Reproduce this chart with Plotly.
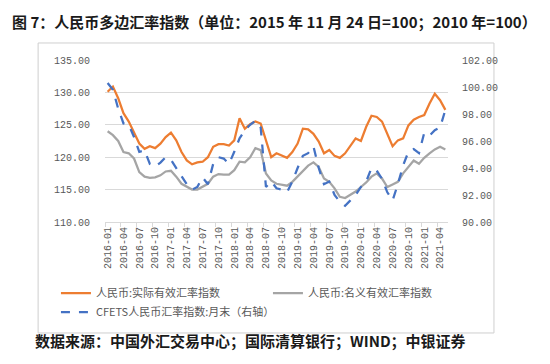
import plotly.graph_objects as go

months = [f"{y}-{m:02d}" for y in range(2016, 2022) for m in range(1, 13)][:65]

reer = [130.1, 130.9, 129.1, 126.8, 125.5, 123.7, 122.1, 121.3, 121.7, 121.4, 122.1, 123.1,
        123.8, 122.6, 120.8, 119.5, 118.9, 119.2, 119.3, 120.0, 121.6, 122.0, 122.0, 121.8,
        122.6, 126.0, 124.4, 125.1, 125.5, 125.2, 122.4, 120.0, 120.6, 120.2, 119.9, 120.8,
        122.1, 124.4, 124.3, 123.6, 122.4, 120.6, 121.1, 120.2, 119.9, 120.6, 121.8, 122.9,
        122.5, 124.7, 126.4, 126.2, 125.5, 123.7, 121.7, 122.6, 122.9, 124.9, 125.8, 126.2,
        126.5, 128.3, 129.8, 128.8, 127.3]

neer = [124.0, 123.4, 122.5, 120.8, 120.6, 119.8, 117.7, 117.0, 116.8, 116.9, 117.2, 117.8,
        117.9, 117.0, 115.9, 115.4, 115.0, 115.0, 115.5, 115.9, 117.0, 117.4, 117.3, 117.3,
        118.0, 119.3, 119.2, 120.0, 121.4, 121.1, 117.5, 116.4, 115.9, 115.7, 115.6, 116.2,
        117.0, 117.8, 118.7, 119.2, 118.5, 116.7, 116.2, 115.2, 113.9, 113.7, 114.2, 114.7,
        115.4, 116.1, 117.0, 117.5, 116.7, 115.4, 115.8, 116.2, 117.5, 118.5, 119.5, 119.0,
        119.9, 120.6, 121.2, 121.6, 121.2]

cfets = [100.3, 99.8, 98.4, 97.3, 97.2, 96.3, 95.2, 95.3, 94.3, 94.1, 94.4, 94.8,
         94.6, 94.0, 93.3, 92.8, 92.4, 92.6, 93.3, 92.8, 94.3, 94.8, 94.7, 94.3,
         95.2, 96.2, 96.8, 97.2, 97.5, 97.0, 92.6, 93.0, 92.5, 92.4, 92.2, 93.0,
         94.0, 94.9, 95.1, 95.6, 94.0, 92.8, 93.0, 92.0, 91.5, 91.2, 91.6, 92.0,
         92.6, 93.0, 94.0, 93.8, 93.2, 92.2, 91.6, 92.8, 94.2, 95.2, 95.4, 95.1,
         96.6, 96.4, 96.8, 97.0, 98.3]

names = ["人民币:实际有效汇率指数", "人民币:名义有效汇率指数", "CFETS人民币汇率指数:月末（右轴）"]

title_text = "图 7：人民币多边汇率指数（单位：2015 年 11 月 24 日=100；2010 年=100）"
source_text = "数据来源：中国外汇交易中心；国际清算银行；WIND；中银证券"

fig = go.Figure()
fig.add_trace(go.Scatter(x=months, y=reer, name=names[0], mode="lines",
                         line=dict(color="#ED7D31", width=2.25)))
fig.add_trace(go.Scatter(x=months, y=neer, name=names[1], mode="lines",
                         line=dict(color="#A5A5A5", width=2.25)))
fig.add_trace(go.Scatter(x=months, y=cfets, name=names[2], mode="lines", yaxis="y2",
                         line=dict(color="#4472C4", width=2.25, dash="dash")))

tickfont = dict(family="Liberation Mono, monospace", size=10, color="#595959")

fig.update_layout(
    width=550, height=364,
    margin=dict(l=97, r=110, t=52, b=150),
    paper_bgcolor="white", plot_bgcolor="white",
    showlegend=True,
    legend=dict(orientation="h", x=-0.143, y=-0.35, xanchor="left", yanchor="top",
                entrywidth=167, tracegroupgap=0, itemwidth=30,
                font=dict(family="Noto Sans CJK SC", size=11, color="#595959"),
                bgcolor="rgba(0,0,0,0)"),
    xaxis=dict(type="category", range=[-0.5, 64.5], tickmode="linear", tick0=0, dtick=3,
               tickson="boundaries", ticks="outside", ticklen=4, tickcolor="#d9d9d9",
               showline=True, linecolor="#d9d9d9", linewidth=1, showgrid=False,
               tickangle=-90, tickfont=tickfont),
    yaxis=dict(range=[110, 135], dtick=5, tickformat=".2f", showgrid=True,
               gridcolor="#d9d9d9", gridwidth=1, zeroline=False, showline=False,
               ticks="", tickfont=tickfont, ticklabelstandoff=14),
    yaxis2=dict(range=[90, 102], dtick=2, tickformat=".2f", overlaying="y", side="right",
                showgrid=False, zeroline=False, showline=False, ticks="",
                tickfont=tickfont, ticklabelstandoff=13),
)

# outer chart frame
fig.add_shape(type="rect", xref="paper", yref="paper",
              x0=-0.195, x1=1.134, y0=-0.685, y1=1.105,
              line=dict(color="#cfcfcf", width=1), layer="below")

fig.add_annotation(text=title_text, xref="paper", yref="paper",
                   x=(2 - 97) / 343, y=(214 - 1) / 162, xanchor="left", yanchor="top",
                   align="left", showarrow=False,
                   font=dict(family="Noto Sans CJK SC", size=15, color="#1a1a1a", weight="bold"))
fig.add_annotation(text=source_text, xref="paper", yref="paper",
                   x=(25 - 97) / 343, y=(214 - 332) / 162, xanchor="left", yanchor="middle",
                   align="left", showarrow=False,
                   font=dict(family="Noto Sans CJK SC", size=15, color="#1a1a1a", weight="bold"))

fig.write_html("out.html")
